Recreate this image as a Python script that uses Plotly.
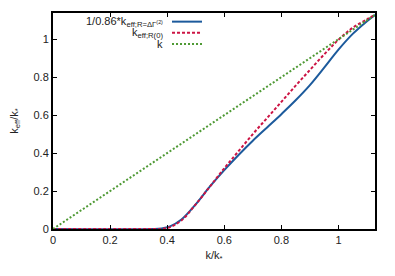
import plotly.graph_objects as go

# data
k_blue = [0, 0.35, 0.38, 0.41, 0.45, 0.5, 0.55, 0.6, 0.65, 0.7, 0.75, 0.8, 0.85, 0.9, 0.95, 1.0, 1.05, 1.1, 1.128]
keff_scaled = [0, 0, 0.003, 0.014, 0.05, 0.13, 0.224, 0.31, 0.39, 0.465, 0.535, 0.605, 0.678, 0.758, 0.85, 0.945, 1.028, 1.095, 1.128]
k_red = [0, 0.35, 0.38, 0.41, 0.45, 0.5, 0.55, 0.6, 0.65, 0.7, 0.75, 0.8, 0.85, 0.9, 0.95, 1.0, 1.05, 1.1, 1.128]
keff_R0 = [0, 0, 0.0, 0.01, 0.045, 0.13, 0.224, 0.32, 0.41, 0.50, 0.585, 0.67, 0.755, 0.838, 0.92, 0.997, 1.06, 1.105, 1.128]
k_green = [0, 1.128]
k_line = [0, 1.128]

xticks = [0, 0.2, 0.4, 0.6, 0.8, 1]
yticks = [0, 0.2, 0.4, 0.6, 0.8, 1]
legend_labels = ["1/0.86*k<sub>eff;R=ΔΓ<sup>(2)</sup></sub>", "k<sub>eff;R(0)</sub>", "k"]

BLUE = "#1c5a9c"
RED = "#cc1444"
GREEN = "#4f9a35"

fig = go.Figure()
fig.add_trace(go.Scatter(x=k_blue, y=keff_scaled, mode="lines", line=dict(color=BLUE, width=2, shape="spline", smoothing=1.0), showlegend=False))
fig.add_trace(go.Scatter(x=k_red, y=keff_R0, mode="lines", line=dict(color=RED, width=2, dash="3px,2px", shape="spline", smoothing=1.0), showlegend=False))
fig.add_trace(go.Scatter(x=k_green, y=k_line, mode="lines", line=dict(color=GREEN, width=2, dash="2px,2px"), showlegend=False))

font = dict(family="Liberation Sans, Arial, sans-serif", size=11, color="#222")

# the page body adds an 8px offset; margins compensate for it
fig.update_layout(
    width=395, height=276,
    margin=dict(l=45, r=28, t=5, b=55),
    paper_bgcolor="white", plot_bgcolor="white",
    font=font,
    xaxis=dict(range=[0, 1.128], tickvals=xticks, ticktext=[f"{v:g}" for v in xticks], automargin=False,
               showgrid=False, zeroline=False, showline=True, linecolor="black", linewidth=2,
               mirror="ticks", ticks="inside", ticklen=4, tickwidth=1, tickcolor="black",
               title=dict(text="k/k<sub>*</sub>", standoff=6, font=font)),
    yaxis=dict(range=[0, 1.138], tickvals=yticks, ticktext=[f"{v:g}" for v in yticks], automargin=False,
               showgrid=False, zeroline=False, showline=True, linecolor="black", linewidth=2,
               mirror="ticks", ticks="inside", ticklen=4, tickwidth=1, tickcolor="black",
               title=dict(text="k<sub>eff</sub>/k<sub>*</sub>", standoff=14, font=font)),
)

rows_y = [0.96, 0.909, 0.856]
styles = [dict(color=BLUE, width=2), dict(color=RED, width=2, dash="3px,2px"), dict(color=GREEN, width=2, dash="2px,2px")]
for lab, yy, st in zip(legend_labels, rows_y, styles):
    fig.add_annotation(x=0.348, y=yy, xref="paper", yref="paper", text=lab, showarrow=False,
                       xanchor="right", yanchor="middle", font=font)
    fig.add_shape(type="line", xref="paper", yref="paper", x0=0.3696, x1=0.4627, y0=yy, y1=yy, line=st)

fig.write_html("out.html")
